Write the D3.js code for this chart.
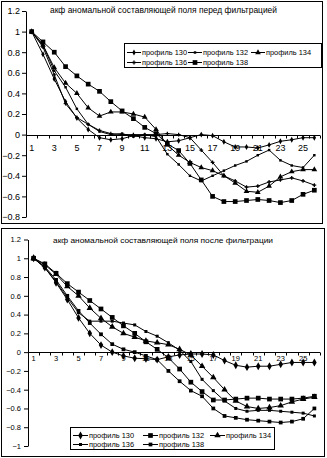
<!DOCTYPE html>
<html>
<head>
<meta charset="utf-8">
<script src="https://cdn.jsdelivr.net/npm/d3@7"></script>
<style>
body { margin: 0; background: #fff; }
svg { display: block; font-family: "Liberation Sans", Arial, sans-serif; }
</style>
</head>
<body>
<svg id="chart" width="327" height="458"></svg>
<script>
// categories (lag numbers)
var lags = [1,2,3,4,5,6,7,8,9,10,11,12,13,14,15,16,17,18,19,20,21,22,23,24,25,26];
var seriesNames = ["профиль 130", "профиль 132", "профиль 134", "профиль 136", "профиль 138"];

// before filtering
var top130 = [1, 0.78, 0.54, 0.32, 0.16, 0.05, -0.03, -0.05, -0.04, -0.01, -0.03, -0.04, -0.07, -0.06, -0.03, 0.0, -0.01, -0.07, -0.12, -0.12, -0.13, -0.1, -0.065, -0.05, -0.03, -0.03];
var top132 = [1, 0.87, 0.62, 0.46, 0.25, 0.1, 0.03, 0.0, 0.01, -0.02, 0.0, -0.02, -0.19, -0.29, -0.4, -0.45, -0.4, -0.35, -0.3, -0.26, -0.2, -0.15, -0.25, -0.3, -0.32, -0.2];
var top134 = [1, 0.87, 0.65, 0.5, 0.4, 0.26, 0.18, 0.22, 0.22, 0.2, 0.17, 0.05, -0.1, -0.2, -0.27, -0.32, -0.35, -0.4, -0.47, -0.55, -0.56, -0.5, -0.41, -0.36, -0.34, -0.34];
var top136 = [1, 0.85, 0.58, 0.3, 0.165, 0.1, 0.04, 0.01, 0.0, 0.0, 0.0, 0.0, 0.01, 0.0, -0.03, -0.15, -0.27, -0.4, -0.45, -0.51, -0.5, -0.46, -0.44, -0.42, -0.45, -0.49];
var top138 = [1, 0.9, 0.8, 0.66, 0.57, 0.49, 0.42, 0.32, 0.23, 0.155, 0.07, 0.01, -0.09, -0.155, -0.28, -0.44, -0.6, -0.65, -0.65, -0.64, -0.63, -0.64, -0.66, -0.64, -0.58, -0.54];

// after filtering
var bot130 = [1, 0.9, 0.74, 0.56, 0.365, 0.2, 0.075, 0.0, -0.04, -0.065, -0.07, -0.08, -0.05, -0.03, -0.02, -0.02, -0.03, -0.09, -0.14, -0.16, -0.15, -0.15, -0.13, -0.11, -0.11, -0.11];
var bot132 = [1, 0.94, 0.84, 0.73, 0.64, 0.55, 0.46, 0.37, 0.28, 0.2, 0.11, 0.03, -0.06, -0.18, -0.32, -0.42, -0.51, -0.51, -0.5, -0.49, -0.49, -0.5, -0.5, -0.5, -0.49, -0.47];
var bot134 = [1, 0.93, 0.83, 0.7, 0.6, 0.47, 0.36, 0.27, 0.2, 0.16, 0.12, 0.1, 0.08, 0.03, -0.03, -0.15, -0.27, -0.4, -0.52, -0.58, -0.6, -0.59, -0.57, -0.53, -0.5, -0.48];
var bot136 = [1, 0.9, 0.75, 0.58, 0.42, 0.33, 0.33, 0.33, 0.31, 0.29, 0.22, 0.17, 0.1, 0.02, -0.1, -0.29, -0.41, -0.52, -0.6, -0.63, -0.62, -0.62, -0.63, -0.64, -0.65, -0.68];
var bot138 = [1, 0.91, 0.77, 0.6, 0.44, 0.31, 0.19, 0.085, 0.03, 0.0, -0.04, -0.08, -0.2, -0.31, -0.41, -0.47, -0.6, -0.68, -0.7, -0.72, -0.73, -0.74, -0.75, -0.74, -0.71, -0.6];

var topTicks = [1.2, 1, 0.8, 0.6, 0.4, 0.2, 0, -0.2, -0.4, -0.6, -0.8];
var botTicks = [1.2, 1, 0.8, 0.6, 0.4, 0.2, 0, -0.2, -0.4, -0.6, -0.8, -1];

var svg = d3.select("#chart");

// marker shapes per series: [symbol, size]
var topMarkers = [[d3.symbolDiamond, 10], [d3.symbolSquare, 6], [d3.symbolTriangle, 14], [d3.symbolCross, 8], [d3.symbolSquare, 22]];
var botMarkers = [[d3.symbolDiamond, 18], [d3.symbolSquare, 22], [d3.symbolTriangle, 18], [d3.symbolSquare, 9], [d3.symbolSquare, 14]];

function drawPanel(cfg) {
    var g = svg.append("g");

    // frame
    g.append("rect")
    .attr("x", cfg.box[0] + 0.5).attr("y", cfg.box[1] + 0.5)
    .attr("width", cfg.box[2]).attr("height", cfg.box[3])
    .attr("fill", "#fff").attr("stroke", "#000");

    var x = d3.scaleBand().domain(lags).range(cfg.xRange).padding(0);
    var y = d3.scaleLinear().domain(cfg.yDomain).range(cfg.yRange);

    // y axis
    var yAxis = g.append("g")
    .attr("transform", "translate(" + cfg.xRange[0] + ",0)")
    .call(d3.axisLeft(y).tickValues(cfg.ticks).tickSize(4).tickSizeOuter(0)
        .tickFormat(function(d){ return d3.format("")(+d.toFixed(1)); }));
    yAxis.select(".domain").attr("stroke", "#000");
    yAxis.selectAll("line").attr("stroke", "#000");
    yAxis.selectAll("text").attr("font-size", cfg.tickFont).attr("fill", "#000")
    .attr("font-family", "Liberation Sans, Arial, sans-serif").attr("x", -cfg.labelGap);

    // x axis at zero
    var y0 = Math.round(y(0)) + 0.5;
    g.append("line")
    .attr("x1", cfg.xRange[0]).attr("x2", cfg.xRange[1])
    .attr("y1", y0).attr("y2", y0).attr("stroke", "#000");
    g.selectAll(".xtick").data(lags.concat([27])).enter().append("line")
    .attr("x1", function(d){ return Math.round(cfg.xRange[0] + (d - 1) * x.step()) + 0.5; })
    .attr("x2", function(d){ return Math.round(cfg.xRange[0] + (d - 1) * x.step()) + 0.5; })
    .attr("y1", y0).attr("y2", y0 + 3).attr("stroke", "#000");
    g.selectAll(".xlab").data(lags.filter(function(d){ return d % 2 == 1; })).enter().append("text")
    .attr("x", function(d){ return x(d) + x.step() / 2; })
    .attr("y", y0 + cfg.xLabelDy)
    .attr("text-anchor", "middle")
    .attr("font-size", cfg.tickFont)
    .text(function(d){ return d; });

    // title
    g.append("text")
    .attr("x", cfg.title[1]).attr("y", cfg.title[2])
    .attr("font-size", cfg.titleFont)
    .attr("textLength", cfg.title[3]).attr("lengthAdjust", "spacingAndGlyphs")
    .text(cfg.title[0]);

    // series
    var line = d3.line()
    .x(function(d, i){ return x(lags[i]) + x.step() / 2; })
    .y(function(d){ return y(d); });

    cfg.series.forEach(function(vals, k) {
        g.append("path").datum(vals)
        .attr("d", line).attr("fill", "none")
        .attr("stroke", "#000").attr("stroke-width", 1);
        var sym = d3.symbol().type(cfg.markers[k][0]).size(cfg.markers[k][1]);
        g.selectAll(".m" + k).data(vals).enter().append("path")
        .attr("d", sym)
        .attr("transform", function(d, i){ return "translate(" + (x(lags[i]) + x.step() / 2) + "," + y(d) + ")"; })
        .attr("fill", "#000");
    });

    // legend
    var lg = cfg.legend;
    g.append("rect")
    .attr("x", lg.box[0] + 0.5).attr("y", lg.box[1] + 0.5)
    .attr("width", lg.box[2]).attr("height", lg.box[3])
    .attr("fill", "#fff").attr("stroke", "#000");
    seriesNames.forEach(function(name, k) {
        var ex = lg.cols[k % 3], ey = lg.rows[Math.floor(k / 3)];
        g.append("line")
        .attr("x1", ex).attr("x2", ex + lg.lineW)
        .attr("y1", ey + 0.5).attr("y2", ey + 0.5).attr("stroke", "#000");
        g.append("path")
        .attr("d", d3.symbol().type(cfg.markers[k][0]).size(cfg.markers[k][1]))
        .attr("transform", "translate(" + (ex + lg.lineW / 2) + "," + (ey + 0.5) + ")")
        .attr("fill", "#000");
        g.append("text")
        .attr("x", ex + lg.lineW + 1).attr("y", ey + 3)
        .attr("font-size", lg.font)
        .attr("textLength", lg.textW).attr("lengthAdjust", "spacingAndGlyphs")
        .text(name);
    });
}

drawPanel({
    box: [1, 1, 321, 222],
    xRange: [26, 320],
    yDomain: [-0.8, 1.2],
    yRange: [217, 11],
    ticks: topTicks,
    tickFont: 9,
    labelGap: 6,
    xLabelDy: 15,
    title: ["акф аномальной составляющей поля перед фильтрацией", 50, 13, 227],
    titleFont: 8.5,
    series: [top130, top132, top134, top136, top138],
    markers: topMarkers,
    legend: { box: [124, 43, 197, 24], cols: [127, 188, 251], rows: [52, 62], lineW: 14, font: 8, textW: 45 }
});

drawPanel({
    box: [1, 228, 323, 228],
    xRange: [28, 320],
    yDomain: [-1, 1.2],
    yRange: [446, 239.5],
    ticks: botTicks,
    tickFont: 7.5,
    labelGap: 7,
    xLabelDy: 8,
    title: ["акф аномальной составляющей поля после фильтрации", 53, 243, 220],
    titleFont: 8,
    series: [bot130, bot132, bot134, bot136, bot138],
    markers: botMarkers,
    legend: { box: [70, 427, 204, 22], cols: [73, 143, 210], rows: [435, 444], lineW: 15, font: 8, textW: 45 }
});
</script>
</body>
</html>
